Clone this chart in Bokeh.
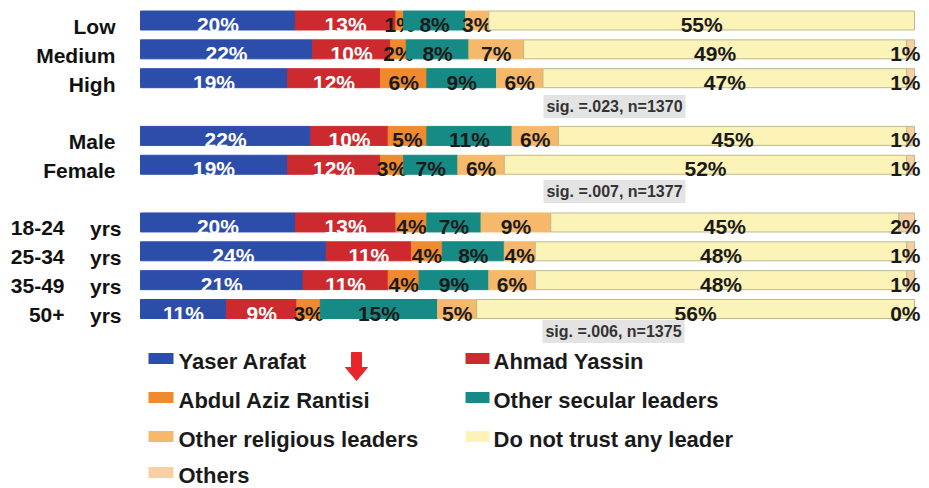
from bokeh.plotting import figure
from bokeh.models import ColumnDataSource, Range1d, Label
from bokeh.core.properties import value
from bokeh.embed import file_html
from bokeh.resources import INLINE

# ---------------- data ----------------
CATEGORIES = ["Low", "Medium", "High", "Male", "Female",
              "18-24 yrs", "25-34 yrs", "35-49 yrs", "50+ yrs"]
SERIES = ["Yaser Arafat", "Ahmad Yassin", "Abdul Aziz Rantisi",
          "Other secular leaders", "Other religious leaders",
          "Do not trust any leader", "Others"]
YASER_ARAFAT = [20, 22, 19, 22, 19, 20, 24, 21, 11]
AHMAD_YASSIN = [13, 10, 12, 10, 12, 13, 11, 11, 9]
ABDUL_AZIZ_RANTISI = [1, 2, 6, 5, 3, 4, 4, 4, 3]
OTHER_SECULAR = [8, 8, 9, 11, 7, 7, 8, 9, 15]
OTHER_RELIGIOUS = [3, 7, 6, 6, 6, 9, 4, 6, 5]
NO_TRUST = [55, 49, 47, 45, 52, 45, 48, 48, 56]
OTHERS = [0, 1, 1, 1, 1, 2, 1, 1, 0]
OTHERS_LABEL_SHOWN = [False, True, True, True, True, True, True, True, True]
SIG_NOTES = ["sig. =.023, n=1370", "sig. =.007, n=1377", "sig. =.006, n=1375"]

VALUES = [YASER_ARAFAT, AHMAD_YASSIN, ABDUL_AZIZ_RANTISI, OTHER_SECULAR,
          OTHER_RELIGIOUS, NO_TRUST, OTHERS]

# ---------------- styles / layout ----------------
COLORS = ["#2d4dab", "#cc2a2e", "#ef8a2e", "#168a84", "#f6b86a", "#fbf3b8", "#f8cfa3"]
OUTLINES = [None, None, None, None, None, "#bdb98c", "#bdb98c"]
LABEL_COLORS = ["#ffffff", "#ffffff", "#1a1a1a", "#1a1a1a", "#1a1a1a", "#1a1a1a", "#1a1a1a"]
FONT = "Liberation Sans"

W, H = 929, 488
MARGIN = 0                      # page offset of the figure (reference px)
BAR_LEFT, BAR_RIGHT = 140, 914  # reference px for 0% and 100%
PX_PER_PCT = (BAR_RIGHT - BAR_LEFT) / 100.0
ROW_SLOTS = [0, 1, 2, 4, 5, 7, 8, 9, 10]
FIRST_ROW_Y, ROW_PITCH, BAR_H = 20.0, 28.85, 19
SIG_POS = [(614, 106), (614, 191), (613, 331)]


def xp(ref_px):
    """reference pixel -> percent axis"""
    return (ref_px - BAR_LEFT) / PX_PER_PCT


p = figure(width=W, height=H, output_backend="svg", toolbar_location=None,
           x_range=Range1d(xp(MARGIN), xp(MARGIN + W)),
           y_range=Range1d(MARGIN + H, MARGIN),
           min_border=0, min_border_left=0, min_border_right=0,
           min_border_top=0, min_border_bottom=0)
p.axis.visible = False
p.grid.visible = False
p.outline_line_color = None
p.background_fill_color = "white"
p.border_fill_color = "white"

row_y = [FIRST_ROW_Y + s * ROW_PITCH for s in ROW_SLOTS]
totals = [sum(v[i] for v in VALUES) for i in range(len(CATEGORIES))]

cum = [0.0] * len(CATEGORIES)
for k, (name, vals) in enumerate(zip(SERIES, VALUES)):
    left = [cum[i] / totals[i] * 100 for i in range(len(vals))]
    right = [(cum[i] + vals[i]) / totals[i] * 100 for i in range(len(vals))]
    cum = [cum[i] + vals[i] for i in range(len(vals))]
    src = ColumnDataSource(dict(y=row_y, left=left, right=right,
                                mid=[(a + b) / 2 for a, b in zip(left, right)],
                                ty=[y + 4 for y in row_y],
                                lab=[f"{v}%" for v in vals]))
    p.hbar(y="y", left="left", right="right", height=BAR_H, source=src,
           fill_color=COLORS[k],
           line_color=OUTLINES[k] if OUTLINES[k] else COLORS[k], line_width=1)
    if name != "Others":
        p.text(x="mid", y="ty", text="lab", source=src, text_align="center",
               text_baseline="middle", text_font=value(FONT), text_font_style="bold",
               text_font_size="21px", text_color=LABEL_COLORS[k])
    else:
        shown = [i for i in range(len(vals)) if OTHERS_LABEL_SHOWN[i]]
        osrc = ColumnDataSource(dict(x=[100] * len(shown),
                                     y=[row_y[i] + 4 for i in shown],
                                     lab=[f"{vals[i]}%" for i in shown]))
        p.text(x="x", y="y", text="lab", source=osrc, text_align="right",
               text_baseline="middle", x_offset=6, text_font=value(FONT),
               text_font_style="bold", text_font_size="21px", text_color="#1a1a1a")

# category labels
simple_y, simple_t, num_t, num_y = [], [], [], []
for cat, y in zip(CATEGORIES, row_y):
    if cat.endswith("yrs"):
        num_t.append(cat.split(" ")[0])
        num_y.append(y + 6)
    else:
        simple_t.append(cat)
        simple_y.append(y + 6)
lab_style = dict(text_baseline="middle", text_font=value(FONT), text_font_style="bold",
                 text_font_size="21px", text_color="#111111", text_align="right")
p.text(x=[xp(115)] * len(simple_t), y=simple_y, text=simple_t, **lab_style)
p.text(x=[xp(64)] * len(num_t), y=num_y, text=num_t, **lab_style)
p.text(x=[xp(121)] * len(num_t), y=num_y, text=["yrs"] * len(num_t), **lab_style)

# significance notes
for note, (sx, sy) in zip(SIG_NOTES, SIG_POS):
    p.add_layout(Label(x=xp(sx), y=sy, text=note, text_align="center",
                       text_baseline="middle", text_font=FONT, text_font_style="bold",
                       text_font_size="16px", text_color="#333333",
                       background_fill_color="#e3e3e3", padding=3))

# legend (row-major, two columns)
LEG_ROWS_Y = [361, 400, 439, 475]
LEG_SW_X = [(148, 173), (465, 489)]
LEG_TX_X = [178, 493]
sw_l, sw_r, sw_y, sw_c, tx_x, tx_y, tx_t = [], [], [], [], [], [], []
for k, name in enumerate(SERIES):
    r, c = divmod(k, 2)
    sw_l.append(xp(LEG_SW_X[c][0]))
    sw_r.append(xp(LEG_SW_X[c][1]))
    sw_y.append(LEG_ROWS_Y[r] - 3)
    sw_c.append(COLORS[k])
    tx_x.append(xp(LEG_TX_X[c]))
    tx_y.append(LEG_ROWS_Y[r])
    tx_t.append(name)
p.hbar(y=sw_y, left=sw_l, right=sw_r, height=11, fill_color=sw_c, line_color=None)
p.text(x=tx_x, y=tx_y, text=tx_t, text_align="left", text_baseline="middle",
       text_font=value(FONT), text_font_style="bold", text_font_size="22px",
       text_color="#1a1a1a")

# red arrow after "Yaser Arafat"
ax = [351, 361, 361, 367, 356, 345, 351]
ay = [352, 352, 367, 367, 380, 367, 367]
p.patch(x=[xp(v) for v in ax], y=ay, fill_color="#e8262a", line_color="#e8262a")

open("out.html", "w").write(file_html(p, INLINE))
